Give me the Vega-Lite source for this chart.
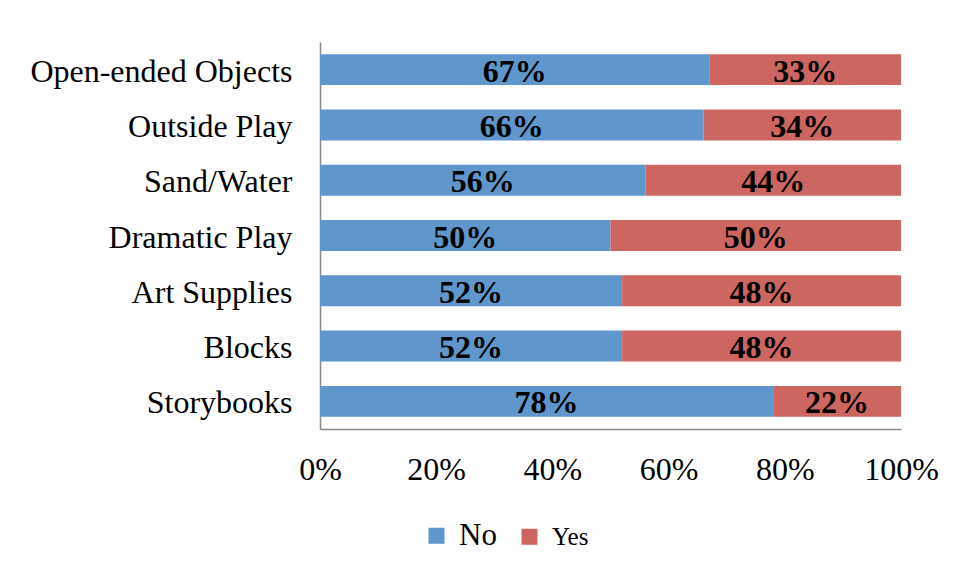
{
  "$schema": "https://vega.github.io/schema/vega-lite/v6.json",
  "width": 581,
  "height": 387,
  "autosize": {"type": "none"},
  "padding": {"left": 320, "top": 42, "right": 55, "bottom": 149},
  "background": "white",
  "config": {
    "view": {"stroke": null},
    "font": "Liberation Serif"
  },
  "data": {
    "values": [
      {"item": "Open-ended Objects", "answer": "No", "pct": 0.67},
      {"item": "Open-ended Objects", "answer": "Yes", "pct": 0.33},
      {"item": "Outside Play", "answer": "No", "pct": 0.66},
      {"item": "Outside Play", "answer": "Yes", "pct": 0.34},
      {"item": "Sand/Water", "answer": "No", "pct": 0.56},
      {"item": "Sand/Water", "answer": "Yes", "pct": 0.44},
      {"item": "Dramatic Play", "answer": "No", "pct": 0.50},
      {"item": "Dramatic Play", "answer": "Yes", "pct": 0.50},
      {"item": "Art Supplies", "answer": "No", "pct": 0.52},
      {"item": "Art Supplies", "answer": "Yes", "pct": 0.48},
      {"item": "Blocks", "answer": "No", "pct": 0.52},
      {"item": "Blocks", "answer": "Yes", "pct": 0.48},
      {"item": "Storybooks", "answer": "No", "pct": 0.78},
      {"item": "Storybooks", "answer": "Yes", "pct": 0.22}
    ]
  },
  "encoding": {
    "y": {
      "field": "item",
      "type": "nominal",
      "sort": null,
      "scale": {"paddingInner": 0.44, "paddingOuter": 0.22},
      "axis": {
        "title": null,
        "ticks": false,
        "grid": false,
        "domainColor": "#8a8a8a",
        "domainWidth": 1.5,
        "labelFont": "Liberation Serif",
        "labelFontSize": 32,
        "labelColor": "black",
        "labelPadding": 28,
        "labelOffset": 2,
        "labelLimit": 0
      }
    },
    "order": {"field": "answer", "sort": "ascending"}
  },
  "layer": [
    {
      "mark": {"type": "bar"},
      "encoding": {
        "x": {
          "field": "pct",
          "type": "quantitative",
          "stack": "zero",
          "scale": {"domain": [0, 1], "nice": false},
          "axis": {
            "title": null,
            "format": ".0%",
            "values": [0, 0.2, 0.4, 0.6, 0.8, 1],
            "ticks": false,
            "grid": false,
            "domainColor": "#8a8a8a",
            "domainWidth": 1.5,
            "labelFont": "Liberation Serif",
            "labelFontSize": 32,
            "labelColor": "black",
            "labelPadding": 25,
            "labelFlush": false
          }
        },
        "color": {
          "field": "answer",
          "type": "nominal",
          "scale": {"domain": ["No", "Yes"], "range": ["#5f96cb", "#cd6661"]},
          "legend": {
            "orient": "none",
            "legendX": 104,
            "legendY": 481,
            "direction": "horizontal",
            "title": null,
            "symbolType": "square",
            "symbolSize": 256,
            "symbolStrokeWidth": 0,
            "labelFont": "Liberation Serif",
            "labelFontSize": 28,
            "labelColor": "black",
            "labelOffset": 10,
            "columnPadding": 20,
            "encode": {
              "labels": {
                "update": {
                  "fontSize": {"signal": "datum.label === 'No' ? 31 : 25"}
                }
              }
            }
          }
        }
      }
    },
    {
      "mark": {
        "type": "text",
        "font": "Liberation Serif",
        "fontSize": 32,
        "fontWeight": "bold",
        "color": "black",
        "baseline": "middle",
        "align": "center",
        "dy": 2
      },
      "encoding": {
        "x": {"field": "pct", "type": "quantitative", "stack": "zero", "bandPosition": 0.5},
        "detail": {"field": "answer", "type": "nominal"},
        "text": {"field": "pct", "type": "quantitative", "format": ".0%"}
      }
    }
  ]
}
